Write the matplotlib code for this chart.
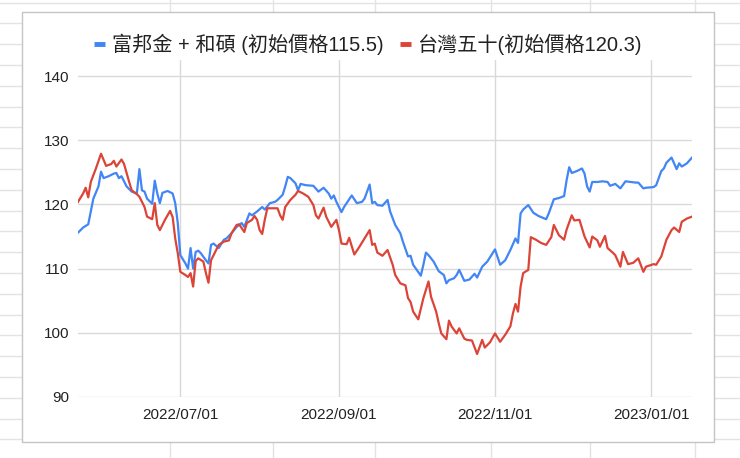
import numpy as np
import pandas as pd
import matplotlib
matplotlib.use("Agg")
import matplotlib.pyplot as plt
import matplotlib.dates as mdates
from matplotlib.lines import Line2D
from matplotlib.patches import Rectangle

# values
blue_dates = [
    "2022-05-22", "2022-05-24", "2022-05-26", "2022-05-27", "2022-05-28", "2022-05-30", "2022-05-31",
    "2022-06-01", "2022-06-03", "2022-06-05", "2022-06-06", "2022-06-07", "2022-06-08", "2022-06-10",
    "2022-06-12", "2022-06-14", "2022-06-15", "2022-06-16", "2022-06-17", "2022-06-18", "2022-06-20",
    "2022-06-21", "2022-06-22", "2022-06-23", "2022-06-24", "2022-06-26", "2022-06-28", "2022-06-29",
    "2022-06-30", "2022-07-01", "2022-07-03", "2022-07-04", "2022-07-05", "2022-07-06", "2022-07-07",
    "2022-07-08", "2022-07-09", "2022-07-11", "2022-07-12", "2022-07-13", "2022-07-14", "2022-07-16",
    "2022-07-18", "2022-07-19", "2022-07-21", "2022-07-23", "2022-07-25", "2022-07-26", "2022-07-28",
    "2022-07-29", "2022-07-31", "2022-08-02", "2022-08-03", "2022-08-05", "2022-08-07", "2022-08-08",
    "2022-08-10", "2022-08-11", "2022-08-12", "2022-08-13", "2022-08-15", "2022-08-16", "2022-08-17",
    "2022-08-19", "2022-08-22", "2022-08-24", "2022-08-26", "2022-08-28", "2022-08-29", "2022-08-30",
    "2022-08-31", "2022-09-02", "2022-09-03", "2022-09-06", "2022-09-08", "2022-09-10", "2022-09-11",
    "2022-09-13", "2022-09-14", "2022-09-15", "2022-09-16", "2022-09-18", "2022-09-20", "2022-09-21",
    "2022-09-23", "2022-09-25", "2022-09-26", "2022-09-28", "2022-09-29", "2022-09-30", "2022-10-03",
    "2022-10-04", "2022-10-05", "2022-10-06", "2022-10-08", "2022-10-10", "2022-10-12", "2022-10-13",
    "2022-10-14", "2022-10-16", "2022-10-17", "2022-10-18", "2022-10-20", "2022-10-22", "2022-10-24",
    "2022-10-25", "2022-10-27", "2022-10-29", "2022-11-01", "2022-11-03", "2022-11-05", "2022-11-07",
    "2022-11-09", "2022-11-10", "2022-11-11", "2022-11-12", "2022-11-14", "2022-11-16", "2022-11-18",
    "2022-11-21", "2022-11-22", "2022-11-24", "2022-11-26", "2022-11-28", "2022-11-29", "2022-11-30",
    "2022-12-01", "2022-12-03", "2022-12-05", "2022-12-06", "2022-12-07", "2022-12-08", "2022-12-09",
    "2022-12-11", "2022-12-13", "2022-12-15", "2022-12-16", "2022-12-18", "2022-12-20", "2022-12-22",
    "2022-12-24", "2022-12-26", "2022-12-27", "2022-12-29", "2022-12-30", "2023-01-02", "2023-01-03",
    "2023-01-05", "2023-01-06", "2023-01-07", "2023-01-09", "2023-01-10", "2023-01-11", "2023-01-12",
    "2023-01-13", "2023-01-15", "2023-01-17",
]
blue_vals = [
    115.6, 116.4, 116.9, 118.9, 120.9, 122.8, 125.1,
    124.1, 124.4, 124.8, 124.9, 124.1, 124.4, 122.8,
    122.0, 121.7, 125.5, 122.2, 122.0, 120.9, 120.1,
    123.7, 121.7, 120.2, 121.8, 122.1, 121.7, 120.2,
    117.1, 112.1, 110.8, 110.0, 113.2, 110.0, 112.6,
    112.8, 112.4, 111.3, 110.8, 113.7, 113.9, 113.2,
    114.5, 114.7, 115.5, 116.5, 117.1, 116.5, 118.6,
    118.3, 118.9, 119.6, 119.2, 120.2, 120.4, 120.7,
    121.5, 122.8, 124.3, 124.1, 123.3, 122.2, 123.2,
    123.0, 122.9, 122.0, 122.6, 121.7, 120.9, 121.4,
    120.4, 118.8, 119.6, 121.4, 120.2, 120.4, 120.9,
    123.1, 120.2, 120.4, 119.9, 119.8, 120.7, 118.9,
    116.8, 115.5, 114.2, 111.9, 112.0, 110.6, 108.9,
    110.6, 112.5, 112.1, 111.1, 109.6, 109.0, 107.7,
    108.2, 108.5, 109.0, 109.8, 108.1, 108.3, 109.2,
    108.6, 110.3, 111.1, 113.0, 110.6, 111.3, 112.9,
    114.7, 114.0, 118.6, 119.2, 119.9, 118.7, 118.2,
    117.7, 118.6, 120.8, 121.0, 121.3, 123.8, 125.8,
    124.9, 125.2, 125.6, 124.8, 122.8, 122.0, 123.5,
    123.5, 123.6, 123.5, 122.9, 123.2, 122.5, 123.6,
    123.5, 123.4, 123.4, 122.5, 122.6, 122.7, 123.0,
    125.2, 125.6, 126.5, 127.3, 126.4, 125.5, 126.4,
    125.9, 126.4, 127.3,
]

red_dates = [
    "2022-05-22", "2022-05-24", "2022-05-25", "2022-05-26", "2022-05-27", "2022-05-29", "2022-05-31",
    "2022-06-02", "2022-06-04", "2022-06-05", "2022-06-06", "2022-06-08", "2022-06-09", "2022-06-11",
    "2022-06-12", "2022-06-14", "2022-06-15", "2022-06-17", "2022-06-18", "2022-06-20", "2022-06-21",
    "2022-06-22", "2022-06-23", "2022-06-25", "2022-06-27", "2022-06-28", "2022-06-29", "2022-06-30",
    "2022-07-01", "2022-07-03", "2022-07-04", "2022-07-05", "2022-07-06", "2022-07-07", "2022-07-08",
    "2022-07-10", "2022-07-11", "2022-07-12", "2022-07-13", "2022-07-14", "2022-07-15", "2022-07-16",
    "2022-07-18", "2022-07-20", "2022-07-21", "2022-07-23", "2022-07-24", "2022-07-26", "2022-07-27",
    "2022-07-29", "2022-07-30", "2022-07-31", "2022-08-01", "2022-08-02", "2022-08-03", "2022-08-04",
    "2022-08-06", "2022-08-08", "2022-08-09", "2022-08-10", "2022-08-11", "2022-08-13", "2022-08-15",
    "2022-08-16", "2022-08-18", "2022-08-20", "2022-08-22", "2022-08-23", "2022-08-24", "2022-08-26",
    "2022-08-27", "2022-08-29", "2022-08-31", "2022-09-01", "2022-09-02", "2022-09-04", "2022-09-05",
    "2022-09-07", "2022-09-09", "2022-09-11", "2022-09-13", "2022-09-14", "2022-09-15", "2022-09-16",
    "2022-09-18", "2022-09-20", "2022-09-22", "2022-09-23", "2022-09-25", "2022-09-27", "2022-09-28",
    "2022-09-29", "2022-09-30", "2022-10-02", "2022-10-04", "2022-10-06", "2022-10-07", "2022-10-09",
    "2022-10-10", "2022-10-11", "2022-10-13", "2022-10-14", "2022-10-15", "2022-10-17", "2022-10-18",
    "2022-10-20", "2022-10-21", "2022-10-23", "2022-10-25", "2022-10-27", "2022-10-28", "2022-10-30",
    "2022-11-01", "2022-11-03", "2022-11-05", "2022-11-07", "2022-11-08", "2022-11-09", "2022-11-10",
    "2022-11-11", "2022-11-12", "2022-11-14", "2022-11-15", "2022-11-17", "2022-11-19", "2022-11-21",
    "2022-11-23", "2022-11-24", "2022-11-25", "2022-11-26", "2022-11-28", "2022-11-29", "2022-12-01",
    "2022-12-02", "2022-12-04", "2022-12-06", "2022-12-08", "2022-12-09", "2022-12-11", "2022-12-12",
    "2022-12-14", "2022-12-15", "2022-12-17", "2022-12-18", "2022-12-20", "2022-12-21", "2022-12-23",
    "2022-12-25", "2022-12-27", "2022-12-29", "2022-12-30", "2023-01-02", "2023-01-03", "2023-01-05",
    "2023-01-07", "2023-01-09", "2023-01-10", "2023-01-12", "2023-01-13", "2023-01-15", "2023-01-17",
]
red_vals = [
    120.4, 121.7, 122.6, 121.1, 123.5, 125.6, 127.9,
    126.0, 126.3, 126.8, 125.9, 127.0, 126.3, 123.5,
    122.2, 121.6, 121.2, 119.6, 118.1, 117.7, 120.2,
    116.8, 116.0, 117.6, 119.0, 118.0, 114.7, 112.4,
    109.5, 109.0, 108.7, 109.3, 107.2, 111.2, 111.6,
    111.1, 109.3, 107.8, 111.3, 112.1, 112.9, 113.7,
    114.2, 114.4, 115.5, 116.8, 116.9, 115.7, 117.1,
    117.6, 118.2, 117.6, 116.0, 115.4, 117.6, 119.4,
    119.4, 119.4, 118.3, 117.6, 119.6, 120.7, 121.5,
    122.1, 121.7, 121.2, 119.9, 118.3, 117.8, 119.5,
    118.1, 116.5, 117.6, 116.0, 113.9, 113.8, 114.8,
    112.2, 113.4, 114.7, 116.0, 113.7, 113.9, 112.5,
    112.0, 112.9, 110.6, 109.0, 107.7, 107.4, 105.4,
    104.8, 103.3, 102.1, 105.4, 108.0, 105.6, 103.3,
    101.5, 99.9, 99.0, 101.9, 101.0, 99.9, 100.7,
    99.1, 98.9, 98.8, 96.7, 98.9, 97.7, 98.5,
    99.9, 98.6, 99.7, 101.0, 103.0, 104.5, 103.3,
    107.2, 109.3, 109.8, 114.9, 114.5, 114.0, 113.7,
    114.9, 116.8, 116.0, 115.2, 114.5, 116.1, 118.3,
    117.5, 117.6, 115.0, 113.3, 115.0, 114.4, 113.4,
    115.1, 113.2, 112.5, 112.1, 110.3, 112.6, 110.7,
    110.9, 111.6, 109.5, 110.3, 110.7, 110.6, 111.9,
    114.5, 116.0, 116.4, 115.7, 117.3, 117.8, 118.1,
]

series_labels = ["富邦金 + 和碩 (初始價格115.5)", "台灣五十(初始價格120.3)"]
series_colors = ["#4285f4", "#db4437"]
x_ticks = ["2022-07-01", "2022-09-01", "2022-11-01", "2023-01-01"]
y_ticks = [90, 100, 110, 120, 130, 140]

W, H = 740, 458
fig = plt.figure(figsize=(W / 100, H / 100), dpi=100)

# spreadsheet background behind the chart
bg = fig.add_axes([0, 0, 1, 1], zorder=-5)
bg.set_xlim(0, W)
bg.set_ylim(H, 0)
bg.axis("off")
for yy in np.arange(2.6, H, 20.8):
    bg.plot([0, W], [yy, yy], color="#e3e3e3", lw=1)
for xx in [170, 273, 375, 491, 590, 695]:
    bg.plot([xx, xx], [0, H], color="#e3e3e3", lw=1)
# faint shadow, then the white chart box
bg.add_patch(Rectangle((23, 13), 692, 430, facecolor="#e6e6e6", edgecolor="none", zorder=2))
bg.add_patch(Rectangle((22, 12), 692, 430, facecolor="white", edgecolor="#c4c4c4", lw=1, zorder=3))

ax = fig.add_axes([78 / W, 1 - 397 / H, (692 - 78) / W, (397 - 60) / H])
ax.set_facecolor("none")

for dates, vals, c in [(blue_dates, blue_vals, series_colors[0]), (red_dates, red_vals, series_colors[1])]:
    ax.plot(pd.to_datetime(dates), vals, color=c, lw=1.6, solid_joinstyle="round", zorder=3)

ax.set_xlim(pd.Timestamp("2022-05-22"), pd.Timestamp("2023-01-17"))
ax.set_ylim(90, 142.5)
ax.set_yticks(y_ticks)
ax.set_xticks(pd.to_datetime(x_ticks))
ax.xaxis.set_major_formatter(mdates.DateFormatter("%Y/%m/%d"))

for yv in y_ticks:
    ax.axhline(yv, color="#d9d9d9", lw=1, zorder=1)
for xv in pd.to_datetime(x_ticks):
    ax.axvline(xv, color="#d9d9d9", lw=1, zorder=1)

for s in ax.spines.values():
    s.set_visible(False)
ax.tick_params(length=0, labelsize=11, colors="#222222", pad=6)
for lab in ax.get_xticklabels() + ax.get_yticklabels():
    lab.set_family(["Liberation Sans", "DejaVu Sans"])
ax.tick_params(axis="x", pad=8)

handles = [Line2D([], [], color=c, lw=3.5, solid_capstyle="butt") for c in series_colors]
leg = fig.legend(handles, series_labels, loc="center", bbox_to_anchor=(368 / W, 1 - 44 / H),
                 ncol=2, frameon=False, handlelength=0.55, handletextpad=0.35, columnspacing=0.8,
                 prop={"family": ["Liberation Sans", "Noto Sans CJK TC"], "size": 14.5})
for t in leg.get_texts():
    t.set_color("#222222")

fig.savefig("out.png", dpi=100)
